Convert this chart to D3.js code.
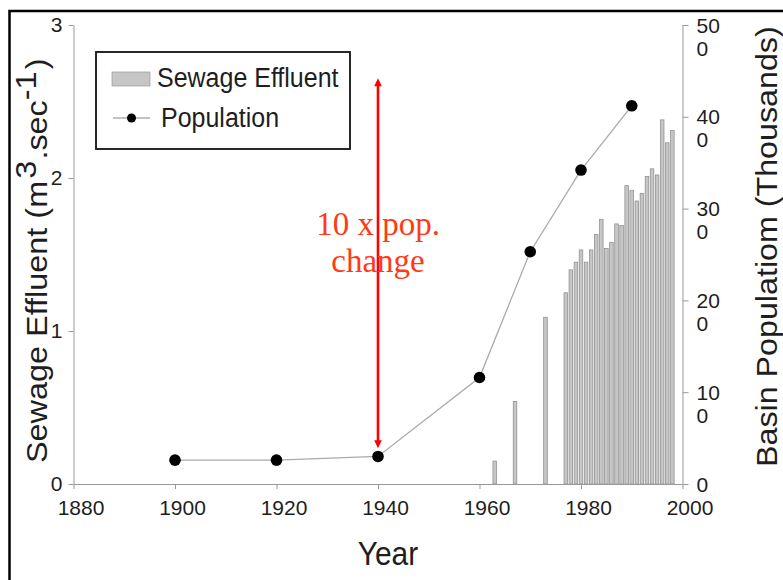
<!DOCTYPE html>
<html>
<head>
<meta charset="utf-8">
<script src="https://cdn.jsdelivr.net/npm/d3@7"></script>
<style>
  html, body { margin: 0; padding: 0; background: #fff; }
  svg { display: block; }
</style>
</head>
<body>
<script>
// ---- data ----
const effluentYears  = [1963, 1967, 1973, 1977, 1978, 1979, 1980, 1981, 1982, 1983, 1984, 1985, 1986, 1987, 1988, 1989, 1990, 1991, 1992, 1993, 1994, 1995, 1996, 1997, 1998];
const effluentValues = [0.15, 0.54, 1.09, 1.25, 1.40, 1.45, 1.53, 1.45, 1.53, 1.63, 1.73, 1.54, 1.58, 1.70, 1.69, 1.95, 1.92, 1.85, 1.90, 2.01, 2.06, 2.02, 2.38, 2.23, 2.31];
const popYears  = [1900, 1920, 1940, 1960, 1970, 1980, 1990];
const popValues = [26, 26, 30, 116, 253, 342, 412];
const xTicks = [1880, 1900, 1920, 1940, 1960, 1980, 2000];
const leftTicks = [0, 1, 2, 3];
const rightTicks = [0, 100, 200, 300, 400, 500];
const arrowYear = 1940, arrowFrom = 39, arrowTo = 442;
const noteLines = ["10 x pop.", "change"];
const legendLabels = ["Sewage Effluent", "Population"];

const SANS = "Liberation Sans, Arial, sans-serif";
const SERIF = "Liberation Serif, Times New Roman, serif";
const W = 783, H = 580;
const svg = d3.select("body").append("svg").attr("width", W).attr("height", H)
  .attr("font-family", SANS);

// outer frame
svg.append("rect").attr("x", 9.5).attr("y", 11).attr("width", 820).attr("height", 620)
  .attr("fill", "none").attr("stroke", "#000").attr("stroke-width", 2.5);

const x = d3.scaleLinear().domain([1880, 2000]).range([73.5, 682.5]);
const yL = d3.scaleLinear().domain([0, 3]).range([484, 25]);
const yR = d3.scaleLinear().domain([0, 500]).range([484, 25]);

const axisColor = "#999";
const textColor = "#1e1e1e";

// bars
svg.append("g").selectAll("rect").data(effluentYears.map((yr, i) => ({yr, v: effluentValues[i]})))
  .join("rect")
  .attr("x", d => x(d.yr) - 1.8)
  .attr("width", 3.6)
  .attr("y", d => yL(d.v))
  .attr("height", d => yL(0) - yL(d.v))
  .attr("fill", "#c6c6c6")
  .attr("stroke", "#8a8a8a")
  .attr("stroke-width", 0.7);

// axes
const gx = svg.append("g").attr("transform", `translate(0,${yL(0)})`)
  .call(d3.axisBottom(x).tickValues(xTicks).tickSize(5).tickFormat(d3.format("d")).tickSizeOuter(0));
gx.select(".domain").attr("stroke", axisColor);
gx.selectAll(".tick line").attr("stroke", axisColor);
gx.selectAll(".tick text").attr("font-size", 21).attr("fill", textColor)
  .attr("font-family", SANS).attr("dx", 7).attr("y", 16);

const gl = svg.append("g").attr("transform", `translate(${x(1880)},0)`)
  .call(d3.axisLeft(yL).tickValues(leftTicks).tickSize(5).tickFormat(d3.format("d")).tickSizeOuter(0));
gl.select(".domain").attr("stroke", axisColor);
gl.selectAll(".tick line").attr("stroke", axisColor);
gl.selectAll(".tick text").attr("font-size", 21).attr("fill", textColor)
  .attr("font-family", SANS).attr("x", -11);

const gr = svg.append("g").attr("transform", `translate(${x(2000)},0)`)
  .call(d3.axisRight(yR).tickValues(rightTicks).tickSize(6).tickFormat("").tickSizeOuter(0));
gr.select(".domain").attr("stroke", axisColor);
gr.selectAll(".tick line").attr("stroke", axisColor);
gr.selectAll(".tick").each(function(d) {
  const g = d3.select(this);
  const s = String(d);
  const t = g.append("text").attr("font-size", 21).attr("fill", textColor)
    .attr("font-family", SANS);
  if (s.length > 1) {
    t.append("tspan").attr("x", 14).attr("y", 7).text(s.slice(0, 2));
    t.append("tspan").attr("x", 14).attr("y", 30).text(s.slice(2));
  } else {
    t.append("tspan").attr("x", 14).attr("y", 7).text(s);
  }
});

// population line
const line = d3.line().x((d, i) => x(popYears[i])).y(d => yR(d));
svg.append("path").datum(popValues).attr("d", line)
  .attr("fill", "none").attr("stroke", "#aaa").attr("stroke-width", 1.3);
svg.append("g").selectAll("circle").data(popValues).join("circle")
  .attr("cx", (d, i) => x(popYears[i])).attr("cy", d => yR(d)).attr("r", 5.8).attr("fill", "#000");

// red arrow
const ax = x(arrowYear);
const yTop = yR(arrowTo), yBot = yR(arrowFrom);
svg.append("line").attr("x1", ax).attr("x2", ax).attr("y1", yTop + 6).attr("y2", yBot - 6)
  .attr("stroke", "#f00").attr("stroke-width", 2.6);
svg.append("path").attr("d", `M${ax},${yTop} L${ax - 3.8},${yTop + 8} L${ax + 3.8},${yTop + 8} Z`).attr("fill", "#f00");
svg.append("path").attr("d", `M${ax},${yBot} L${ax - 3.8},${yBot - 8} L${ax + 3.8},${yBot - 8} Z`).attr("fill", "#f00");

// note text
svg.append("g").selectAll("text").data(noteLines).join("text")
  .attr("x", ax).attr("y", (d, i) => 235 + i * 37)
  .attr("text-anchor", "middle")
  .attr("font-family", SERIF)
  .attr("font-size", 33).attr("fill", "#ff3a14")
  .text(d => d);

// legend
const lg = svg.append("g");
lg.append("rect").attr("x", 96).attr("y", 52).attr("width", 254).attr("height", 97)
  .attr("fill", "#fff").attr("stroke", "#111").attr("stroke-width", 1.8);
lg.append("rect").attr("x", 112).attr("y", 72).attr("width", 38).attr("height", 14)
  .attr("fill", "#c6c6c6").attr("stroke", "#999").attr("stroke-width", 0.7);
lg.append("line").attr("x1", 113).attr("x2", 150).attr("y1", 118).attr("y2", 118)
  .attr("stroke", "#888").attr("stroke-width", 1.2);
lg.append("circle").attr("cx", 131.5).attr("cy", 118).attr("r", 4.5).attr("fill", "#000");
lg.append("text").attr("transform", "translate(157,87) scale(1,1.08)").attr("font-size", 25).attr("fill", textColor).text(legendLabels[0]);
lg.append("text").attr("transform", "translate(161,127) scale(1,1.08)").attr("font-size", 25).attr("fill", textColor).text(legendLabels[1]);

// axis titles
svg.append("text").attr("transform", "translate(388,565) scale(1,1.1)").attr("text-anchor", "middle")
  .attr("font-size", 30).attr("fill", textColor).text("Year");

const lt = svg.append("text").attr("transform", "translate(47,463) rotate(-90) scale(1.08,1)")
  .attr("font-size", 30).attr("fill", textColor);
lt.append("tspan").text("Sewage Effluent (m");
lt.append("tspan").attr("dx", 2).attr("dy", -11).text("3");
lt.append("tspan").attr("dx", 1).attr("dy", 11).text(".sec");
lt.append("tspan").attr("dy", -11).text("-1");
lt.append("tspan").attr("dx", 2).attr("dy", 11).text(")");

svg.append("text").attr("transform", "translate(777,467) rotate(-90) scale(1.075,1)")
  .attr("font-size", 30).attr("fill", textColor).text("Basin Populatiom (Thousands)");
</script>
</body>
</html>
